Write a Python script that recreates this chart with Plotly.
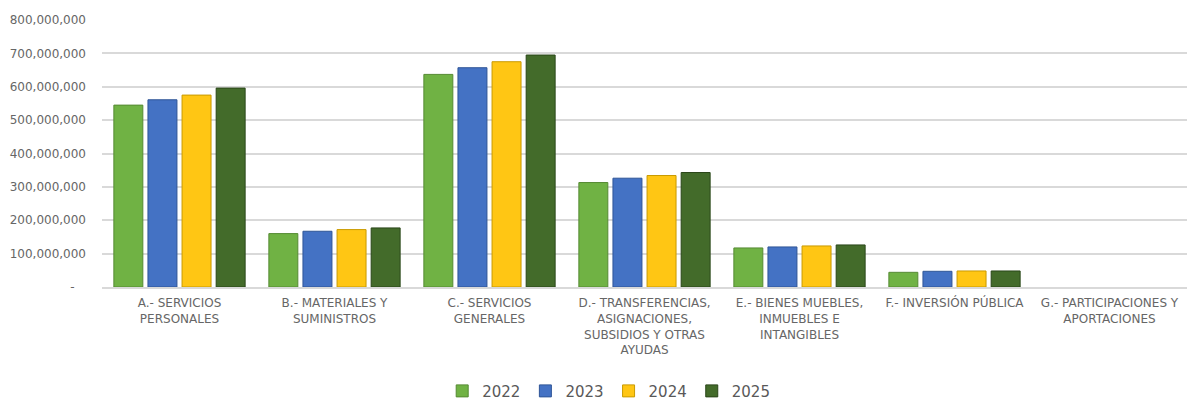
import plotly.graph_objects as go

categories = [
    "A.- SERVICIOS<br>PERSONALES",
    "B.- MATERIALES Y<br>SUMINISTROS",
    "C.- SERVICIOS<br>GENERALES",
    "D.- TRANSFERENCIAS,<br>ASIGNACIONES,<br>SUBSIDIOS Y OTRAS<br>AYUDAS",
    "E.- BIENES MUEBLES,<br>INMUEBLES E<br>INTANGIBLES",
    "F.- INVERSIÓN PÚBLICA",
    "G.- PARTICIPACIONES Y<br>APORTACIONES",
]
series_names = ["2022", "2023", "2024", "2025"]
values_2022 = [545e6, 160e6, 637e6, 313e6, 117e6, 44e6, 0]
values_2023 = [561e6, 167e6, 657e6, 326e6, 120e6, 47e6, 0]
values_2024 = [575e6, 172e6, 675e6, 334e6, 123e6, 48e6, 0]
values_2025 = [596e6, 177e6, 695e6, 343e6, 126e6, 48e6, 0]
tick_values = [0, 100e6, 200e6, 300e6, 400e6, 500e6, 600e6, 700e6, 800e6]
tick_labels = ["-\u00a0\u00a0\u00a0", "100,000,000", "200,000,000", "300,000,000", "400,000,000",
               "500,000,000", "600,000,000", "700,000,000", "800,000,000"]

colors = ["#70b244", "#4472c4", "#ffc614", "#436b2a"]
edge = ["#558a33", "#2f5597", "#c99a00", "#2a4619"]
all_values = [values_2022, values_2023, values_2024, values_2025]

font_family = "Century Gothic, DejaVu Sans, sans-serif"
fig = go.Figure()
for name, vals, c, e in zip(series_names, all_values, colors, edge):
    fig.add_trace(go.Bar(
        name=name, x=categories, y=vals,
        marker=dict(color=c, line=dict(color=e, width=[1 if v > 0 else 0 for v in vals])),
    ))

fig.update_layout(
    width=1193, height=404,
    margin=dict(l=102, r=6, t=20, b=117, autoexpand=False),
    paper_bgcolor="white", plot_bgcolor="white",
    barmode="group", bargap=0.12, bargroupgap=0.15,
    font=dict(family=font_family, color="#595959", size=12),
    showlegend=True,
    legend=dict(orientation="h", xref="paper", yref="paper",
                x=0.467, xanchor="center", y=-0.39, yanchor="middle",
                font=dict(size=15, color="#595959"),
                itemwidth=30, traceorder="normal"),
    xaxis=dict(showgrid=False, showline=True, linecolor="#d9d9d9", linewidth=2,
               tickfont=dict(size=12, color="#666666"), ticks="", ticklabelstandoff=4,
               tickangle=0, automargin=False),
    yaxis=dict(range=[0, 800e6], tickvals=tick_values, ticktext=tick_labels,
               showgrid=True, gridcolor="#d9d9d9", gridwidth=1.5,
               zeroline=False, ticks="", ticklen=0, ticklabelstandoff=15,
               tickfont=dict(size=12, color="#666666"), automargin=False),
)
fig.write_html("out.html")
